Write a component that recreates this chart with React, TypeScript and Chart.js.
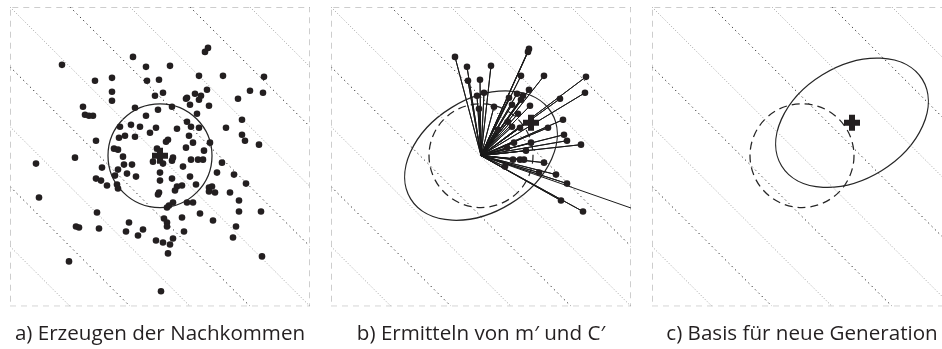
import React, { useEffect, useRef } from "react";
import { Chart, registerables } from "chart.js";

Chart.register(...registerables);

type P = [number, number];

// Search window shown in every panel (both axes)
const AXIS_MIN = 0;
const AXIS_MAX = 300;

// Fitness contours x + y = level, alternating dark / light dotting
const contourLevels = [60, 120, 180, 240, 300, 360, 420, 480, 540];
const contourDark = [false, true, false, true, false, true, false, true, false];

// Offspring sampled around the old mean m
const offspring: P[] = [
  [198, 259], [195, 255], [123, 250], [52, 242], [136, 240], [160, 241], [189, 231], [213, 231],
  [254, 230], [85, 226], [102, 229], [137, 226], [149, 227], [240, 216], [253, 214], [197, 217],
  [102, 215], [153, 214], [145, 211], [185, 213], [191, 211], [177, 209], [176, 208], [189, 207],
  [102, 206], [228, 208], [180, 202], [199, 201], [162, 200], [73, 200], [125, 199], [148, 197],
  [75, 192], [79, 191], [83, 191], [187, 193], [136, 191], [177, 185], [232, 187], [121, 182],
  [130, 180], [110, 180], [146, 179], [181, 180], [189, 179], [167, 178], [216, 179], [140, 174],
  [115, 171], [125, 170], [179, 171], [158, 167], [156, 165], [232, 172], [235, 166], [86, 166],
  [109, 169], [183, 164], [200, 164], [249, 162], [176, 159], [104, 158], [108, 157], [194, 156],
  [147, 158], [65, 149], [113, 150], [163, 149], [162, 146], [181, 147], [188, 147], [193, 147],
  [143, 145], [153, 143], [26, 143], [114, 142], [122, 142], [173, 140], [212, 144], [92, 139],
  [108, 137], [207, 134], [150, 134], [117, 133], [126, 130], [180, 130], [224, 132], [86, 128],
  [91, 126], [105, 131], [162, 128], [150, 126], [236, 123], [97, 121], [107, 122], [108, 118],
  [172, 121], [167, 120], [165, 116], [186, 122], [202, 120], [199, 119], [199, 115], [205, 114],
  [149, 114], [148, 112], [220, 114], [29, 109], [229, 106], [163, 104], [159, 101], [157, 99],
  [177, 104], [183, 104], [229, 95], [251, 95], [87, 94], [190, 93], [172, 89], [154, 88],
  [157, 84], [157, 80], [203, 86], [119, 84], [66, 80], [69, 79], [89, 78], [116, 75],
  [133, 77], [174, 75], [226, 80], [128, 71], [223, 69], [163, 68], [146, 66], [153, 64],
  [160, 62], [158, 53], [252, 50], [59, 45], [151, 15],
];

// Best offspring, used for the update of m and C
const selected: P[] = [
  [198, 258], [197, 255], [124, 250], [136, 240], [160, 241], [190, 231], [213, 231], [255, 230],
  [137, 226], [149, 227], [254, 214], [198, 217], [153, 214], [146, 211], [186, 213], [192, 211],
  [178, 209], [190, 207], [229, 208], [181, 202], [199, 201], [163, 200], [148, 198], [187, 193],
  [177, 185], [232, 187], [181, 180], [189, 179], [217, 179], [167, 177], [233, 172], [236, 166],
  [183, 164], [200, 164], [250, 162], [176, 159], [195, 156], [182, 147], [189, 147], [193, 147],
  [174, 140], [213, 144], [208, 134], [225, 132], [236, 123], [230, 106], [252, 95],
];
// Selected sample lying outside the visible window
const selectedOutside: P[] = [[330, 88]];

const oldMean: P = [150, 151];
const newMean: P = [200, 184];
const oldRadius = 52;
const newSemiAxes: P = [82.6, 56.5];
const newAngleDeg = 31.6;

const titles = [
  "a) Erzeugen der Nachkommen",
  "b) Ermitteln von m\u2032 und C\u2032",
  "c) Basis f\u00fcr neue Generation",
];

const INK = "#231f20";
const CANVAS_W = 321;
const CANVAS_H = 349;
const PANEL_STEP = 321;

type EllipseSpec = { center: P; a: number; b: number; angle: number; dashed: boolean };

const ellipsePlugin = {
  id: "ellipses",
  beforeDatasetsDraw(chart: any, _args: any, opts: any) {
    const items: EllipseSpec[] = (opts && opts.items) || [];
    const xs = chart.scales.x;
    const ys = chart.scales.y;
    const ctx: CanvasRenderingContext2D = chart.ctx;
    items.forEach((e) => {
      const cx = xs.getPixelForValue(e.center[0]);
      const cy = ys.getPixelForValue(e.center[1]);
      const rx = Math.abs(xs.getPixelForValue(e.center[0] + e.a) - cx);
      const ry = Math.abs(ys.getPixelForValue(e.center[1] + e.b) - cy);
      ctx.save();
      ctx.beginPath();
      ctx.ellipse(cx, cy, rx, ry, (-e.angle * Math.PI) / 180, 0, Math.PI * 2);
      ctx.lineWidth = 1.25;
      ctx.strokeStyle = "#262626";
      ctx.setLineDash(e.dashed ? [8, 5] : []);
      ctx.stroke();
      ctx.restore();
    });
  },
};

const pt = (p: P) => ({ x: p[0], y: p[1] });

function contourSegment(level: number) {
  return level <= AXIS_MAX
    ? [{ x: AXIS_MIN, y: level }, { x: level, y: AXIS_MIN }]
    : [{ x: level - AXIS_MAX, y: AXIS_MAX }, { x: AXIS_MAX, y: level - AXIS_MAX }];
}

function backgroundDatasets() {
  const frame = {
    data: [pt([AXIS_MIN, AXIS_MIN]), pt([AXIS_MAX, AXIS_MIN]), pt([AXIS_MAX, AXIS_MAX]), pt([AXIS_MIN, AXIS_MAX]), pt([AXIS_MIN, AXIS_MIN])],
    showLine: true,
    borderColor: "#9c9c9c",
    borderWidth: 1,
    borderDash: [6, 5],
    pointRadius: 0,
    fill: false,
  };
  const contours = contourLevels.map((lv, i) => ({
    data: contourSegment(lv),
    showLine: true,
    borderColor: contourDark[i] ? "#1e1e1e" : "#a0a0a0",
    borderWidth: 1,
    borderDash: contourDark[i] ? [1.2, 3.5] : [1, 2],
    pointRadius: 0,
    fill: false,
  }));
  return [frame, ...contours];
}

function meanDataset(m: P) {
  return {
    data: [pt(m)],
    pointStyle: "cross",
    pointRadius: 8,
    borderWidth: 6,
    borderColor: INK,
    backgroundColor: INK,
    showLine: false,
  };
}

function dotsDataset(points: P[]) {
  return {
    data: points.map(pt),
    pointStyle: "circle",
    pointRadius: 3.3,
    borderWidth: 0,
    backgroundColor: INK,
    showLine: false,
  };
}

function raysDataset(origin: P, ends: P[]) {
  const path: { x: number; y: number }[] = [];
  ends.forEach((e) => {
    path.push(pt(origin));
    path.push(pt(e));
  });
  return {
    data: path,
    showLine: true,
    borderColor: "#1a1a1a",
    borderWidth: 1,
    pointRadius: 0,
    fill: false,
  };
}

function buildConfig(panel: number): any {
  let datasets: any[] = [];
  let ellipses: EllipseSpec[] = [];
  const oldCircle = (dashed: boolean): EllipseSpec => ({ center: oldMean, a: oldRadius, b: oldRadius, angle: 0, dashed });
  const newEllipse = (center: P): EllipseSpec => ({ center, a: newSemiAxes[0], b: newSemiAxes[1], angle: newAngleDeg, dashed: false });

  if (panel === 0) {
    datasets = [meanDataset(oldMean), dotsDataset(offspring), ...backgroundDatasets()];
    ellipses = [oldCircle(false)];
  } else if (panel === 1) {
    datasets = [
      meanDataset(newMean),
      dotsDataset(selected),
      raysDataset(oldMean, [...selected, ...selectedOutside]),
      ...backgroundDatasets(),
    ];
    ellipses = [oldCircle(true), newEllipse(oldMean)];
  } else {
    datasets = [meanDataset(newMean), ...backgroundDatasets()];
    ellipses = [oldCircle(true), newEllipse(newMean)];
  }

  return {
    type: "scatter",
    data: { datasets },
    plugins: [ellipsePlugin],
    options: {
      animation: false,
      responsive: false,
      maintainAspectRatio: false,
      events: [],
      layout: { autoPadding: false, padding: { left: 10, right: 11, top: 7, bottom: 2.8 } },
      elements: { line: { tension: 0 } },
      scales: {
        x: { type: "linear", min: AXIS_MIN, max: AXIS_MAX, display: false },
        y: { type: "linear", min: AXIS_MIN, max: AXIS_MAX, display: false },
      },
      plugins: {
        legend: { display: false },
        tooltip: { enabled: false },
        ellipses: { items: ellipses },
        title: {
          display: true,
          text: titles[panel],
          position: "bottom",
          color: INK,
          font: { family: "'Open Sans', sans-serif", size: 20.6, weight: "normal" },
          padding: { top: 15.2, bottom: 0 },
        },
      },
    },
  };
}

export default function App() {
  const r0 = useRef<HTMLCanvasElement>(null);
  const r1 = useRef<HTMLCanvasElement>(null);
  const r2 = useRef<HTMLCanvasElement>(null);
  const refs = [r0, r1, r2];

  useEffect(() => {
    const charts = refs.map((r, i) => new Chart(r.current as HTMLCanvasElement, buildConfig(i)));
    return () => charts.forEach((c) => c.destroy());
  }, []);

  return (
    <div
      style={{
        position: "fixed",
        left: 0,
        top: 0,
        width: 942,
        height: 349,
        overflow: "hidden",
        background: "#ffffff",
      }}
    >
      {refs.map((r, i) => (
        <canvas
          key={i}
          ref={r}
          width={CANVAS_W}
          height={CANVAS_H}
          style={{ position: "absolute", left: i * PANEL_STEP, top: 0, width: CANVAS_W, height: CANVAS_H }}
        />
      ))}
    </div>
  );
}
